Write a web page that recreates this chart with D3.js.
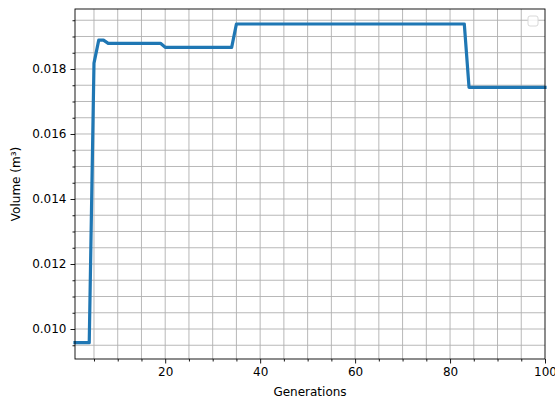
<!DOCTYPE html>
<html><head><meta charset="utf-8">
<script src="https://cdn.jsdelivr.net/npm/d3@7"></script>
<style>body{margin:0;background:#fff}svg{display:block}text{font-family:"DejaVu Sans",sans-serif;fill:#000}</style>
</head><body><svg id="c" width="555" height="401"></svg>
<script>
const generations = d3.range(1, 101);
const segments = [
  {from: 1, to: 4, value: 0.00958},
  {from: 5, to: 5, value: 0.01818},
  {from: 6, to: 7, value: 0.01889},
  {from: 8, to: 19, value: 0.01879},
  {from: 20, to: 34, value: 0.018667},
  {from: 35, to: 83, value: 0.019385},
  {from: 84, to: 100, value: 0.017436}
];
const volume = generations.map(g => segments.find(s => g >= s.from && g <= s.to).value);
const xTicks = [20, 40, 60, 80, 100];
const yTicks = [0.010, 0.012, 0.014, 0.016, 0.018];
const xLabel = "Generations";
const yLabel = "Volume (m³)";

const svg = d3.select("#c");
const L = 75, R = 545, T = 9, B = 359;
const x = d3.scaleLinear().domain([1, 100]).range([L, R]);
const y = d3.scaleLinear().domain([0.009077, 0.019846]).range([B, T]);

const xMinor = d3.range(5, 101, 5);
const yMinor = d3.range(0, 21).map(i => 0.0095 + i * 0.0005).filter(v => v >= y.domain()[0] && v <= y.domain()[1]);

const g = svg.append("g");
// grid
g.selectAll(".gx").data(xMinor.filter(v => v > 1 && v < 100)).enter().append("line")
  .attr("x1", d => x(d)).attr("x2", d => x(d)).attr("y1", T).attr("y2", B)
  .attr("stroke", "#b0b0b0").attr("stroke-width", 0.9);
g.selectAll(".gy").data(yMinor).enter().append("line")
  .attr("y1", d => y(d)).attr("y2", d => y(d)).attr("x1", L).attr("x2", R)
  .attr("stroke", "#b0b0b0").attr("stroke-width", 0.9);

// line
const line = d3.line().x((d, i) => x(generations[i])).y(d => y(d));
svg.append("path").datum(volume).attr("d", line).attr("fill", "none")
  .attr("stroke", "#1f77b4").attr("stroke-width", 3.2).attr("stroke-linejoin", "round").attr("stroke-linecap", "square");

// axes
const xAxis = d3.axisBottom(x).tickValues(xTicks).tickSize(4.5).tickPadding(4).tickFormat(d3.format("d"));
const xMinorAxis = d3.axisBottom(x).tickValues(xMinor.filter(v => !xTicks.includes(v))).tickSize(2.5).tickFormat("");
const yAxis = d3.axisLeft(y).tickValues(yTicks).tickSize(4.5).tickPadding(4).tickFormat(d3.format(".3f"));
const yMinorAxis = d3.axisLeft(y).tickValues(yMinor.filter(v => !yTicks.some(t => Math.abs(t - v) < 1e-9))).tickSize(2.5).tickFormat("");

function style(sel) {
  sel.select(".domain").remove();
  sel.selectAll("line").attr("stroke", "#000").attr("stroke-width", 0.9);
  sel.selectAll("text").attr("font-size", 12).attr("font-family", "DejaVu Sans").attr("fill", "#000");
}
svg.append("g").attr("transform", `translate(0,${B})`).call(xAxis).call(style);
svg.append("g").attr("transform", `translate(0,${B})`).call(xMinorAxis).call(style);
svg.append("g").attr("transform", `translate(${L},0)`).call(yAxis).call(style);
svg.append("g").attr("transform", `translate(${L},0)`).call(yMinorAxis).call(style);

// spines
svg.append("rect").attr("x", L).attr("y", T).attr("width", R - L).attr("height", B - T)
  .attr("fill", "none").attr("stroke", "#000").attr("stroke-width", 0.9);

// empty legend
svg.append("rect").attr("x", 528).attr("y", 16).attr("width", 10).attr("height", 10).attr("rx", 2)
  .attr("fill", "#fff").attr("fill-opacity", 0.8).attr("stroke", "#d8d8d8").attr("stroke-width", 1);

// labels
svg.append("text").attr("x", (L + R) / 2).attr("y", 396).attr("text-anchor", "middle").attr("font-size", 12).text(xLabel);
svg.append("text").attr("transform", `translate(20,${(T + B) / 2}) rotate(-90)`).attr("text-anchor", "middle").attr("font-size", 12).text(yLabel);
</script></body></html>
